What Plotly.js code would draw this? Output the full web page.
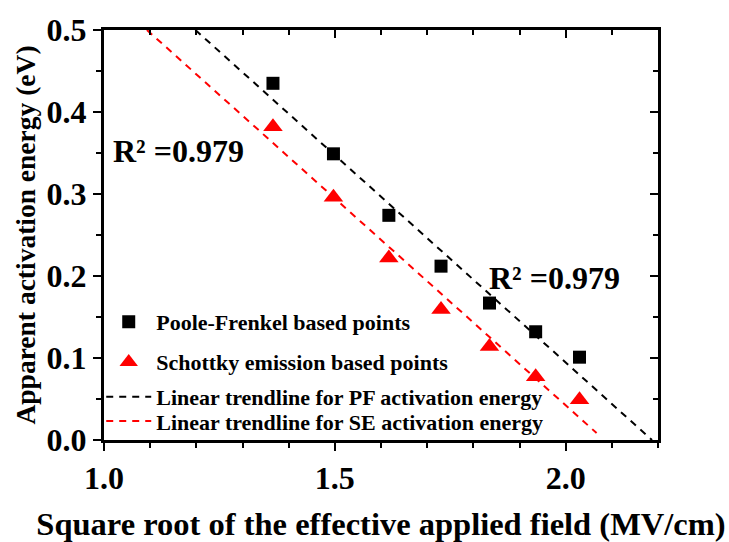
<!DOCTYPE html>
<html>
<head>
<meta charset="utf-8">
<script src="https://cdn.plot.ly/plotly-3.0.1.min.js"></script>
<style>html,body{margin:0;padding:0;background:#fff;}#chart{width:729px;height:542px;}</style>
</head>
<body>
<div id="chart"></div>
<script>
// Data
const fieldSqrt = [1.366, 1.497, 1.617, 1.730, 1.835, 1.935, 2.030];
const pfEnergy = [0.435, 0.349, 0.274, 0.212, 0.167, 0.132, 0.101];
const seEnergy = [0.382, 0.296, 0.222, 0.159, 0.114, 0.077, 0.049];
const pfTrendX = [1.198, 2.187];
const pfTrendY = [0.5, 0.0];
const seTrendX = [1.093, 2.067];
const seTrendY = [0.5, 0.0085];
const legendNames = [
  'Poole-Frenkel based points',
  'Schottky emission based points',
  'Linear trendline for PF activation energy',
  'Linear trendline for SE activation energy'
];
const r2Labels = ['R\u00b2 =0.979', 'R\u00b2 =0.979'];
const xTickVals = [1.0, 1.5, 2.0];
const yTickVals = [0.0, 0.1, 0.2, 0.3, 0.4, 0.5];

const FONT = 'Liberation Serif, Times New Roman, serif';
const fmt = v => v.toFixed(1);

const traces = [
  {x: fieldSqrt, y: pfEnergy, mode: 'markers', name: legendNames[0],
   marker: {symbol: 'square', size: 13, color: '#000'}, legend: 'legend'},
  {x: fieldSqrt, y: seEnergy, mode: 'markers', name: legendNames[1],
   marker: {symbol: 'triangle-up', size: 17, color: '#ff0000'}, legend: 'legend2'},
  {x: pfTrendX, y: pfTrendY, mode: 'lines', name: legendNames[2],
   line: {color: '#000', width: 2, dash: '7px,6px'}, legend: 'legend3'},
  {x: seTrendX, y: seTrendY, mode: 'lines', name: legendNames[3],
   line: {color: '#ff0000', width: 2, dash: '7px,6px'}, legend: 'legend4'},
  {x: [1.0], y: [0.0], xaxis: 'x2', yaxis: 'y2', mode: 'markers', showlegend: false,
   marker: {opacity: 0}, hoverinfo: 'skip'}
];

const axisCommon = {
  showline: true, linewidth: 3, linecolor: '#000', showgrid: false, zeroline: false,
  ticks: 'outside', ticklen: 8, tickwidth: 2, tickcolor: '#000',
  tickfont: {family: FONT, size: 32, color: '#000', weight: 'bold'}
};

const legendFont = {family: FONT, size: 22, color: '#000', weight: 'bold'};
function mkLegend(yc) {
  return {x: -0.005, y: yc, xanchor: 'left', yanchor: 'middle', bgcolor: 'rgba(0,0,0,0)',
    itemwidth: 45, font: legendFont};
}

const layout = {
  width: 729, height: 542,
  margin: {l: 104, r: 71, t: 30, b: 102},
  paper_bgcolor: '#fff', plot_bgcolor: '#fff',
  font: {family: FONT, color: '#000'},
  xaxis: Object.assign({}, axisCommon, {
    range: [1.0, 2.2], tickvals: xTickVals, ticktext: xTickVals.map(fmt),
    minor: {dtick: 0.1, tick0: 1.0, ticks: 'outside', ticklen: 5, tickwidth: 2, tickcolor: '#000'},
    title: {text: 'Square root of the effective applied field (MV/cm)', standoff: 18,
            font: {family: FONT, size: 32.5, color: '#000', weight: 'bold'}}
  }),
  yaxis: Object.assign({}, axisCommon, {
    range: [0.0, 0.5], tickvals: yTickVals, ticktext: yTickVals.map(fmt),
    minor: {dtick: 0.05, tick0: 0, ticks: 'outside', ticklen: 5, tickwidth: 2, tickcolor: '#000'},
    title: {text: 'Apparent activation energy (eV)', standoff: 3,
            font: {family: FONT, size: 27.5, color: '#000', weight: 'bold'}}
  }),
  xaxis2: {overlaying: 'x', matches: 'x', side: 'top', showline: true, linewidth: 3, linecolor: '#000',
    showgrid: false, zeroline: false, showticklabels: false, range: [1.0, 2.2],
    tickvals: xTickVals, ticks: 'inside', ticklen: 8, tickwidth: 2, tickcolor: '#000',
    minor: {dtick: 0.1, tick0: 1.0, ticks: 'inside', ticklen: 5, tickwidth: 2, tickcolor: '#000'}},
  yaxis2: {overlaying: 'y', matches: 'y', side: 'right', showline: true, linewidth: 3, linecolor: '#000',
    showgrid: false, zeroline: false, showticklabels: false, range: [0.0, 0.5],
    tickvals: yTickVals, ticks: 'inside', ticklen: 8, tickwidth: 2, tickcolor: '#000',
    minor: {dtick: 0.05, tick0: 0, ticks: 'inside', ticklen: 5, tickwidth: 2, tickcolor: '#000'}},
  legend: mkLegend(0.288),
  legend2: mkLegend(0.190),
  legend3: mkLegend(0.105),
  legend4: mkLegend(0.046),
  annotations: [
    {x: 1.015, y: 0.353, xref: 'x', yref: 'y', xanchor: 'left', yanchor: 'middle', showarrow: false,
     text: r2Labels[0], font: {family: FONT, size: 32, color: '#000', weight: 'bold'}},
    {x: 1.83, y: 0.197, xref: 'x', yref: 'y', xanchor: 'left', yanchor: 'middle', showarrow: false,
     text: r2Labels[1], font: {family: FONT, size: 32, color: '#000', weight: 'bold'}}
  ],
  showlegend: true
};

Plotly.newPlot('chart', traces, layout, {staticPlot: true, displayModeBar: false});
</script>
</body>
</html>
